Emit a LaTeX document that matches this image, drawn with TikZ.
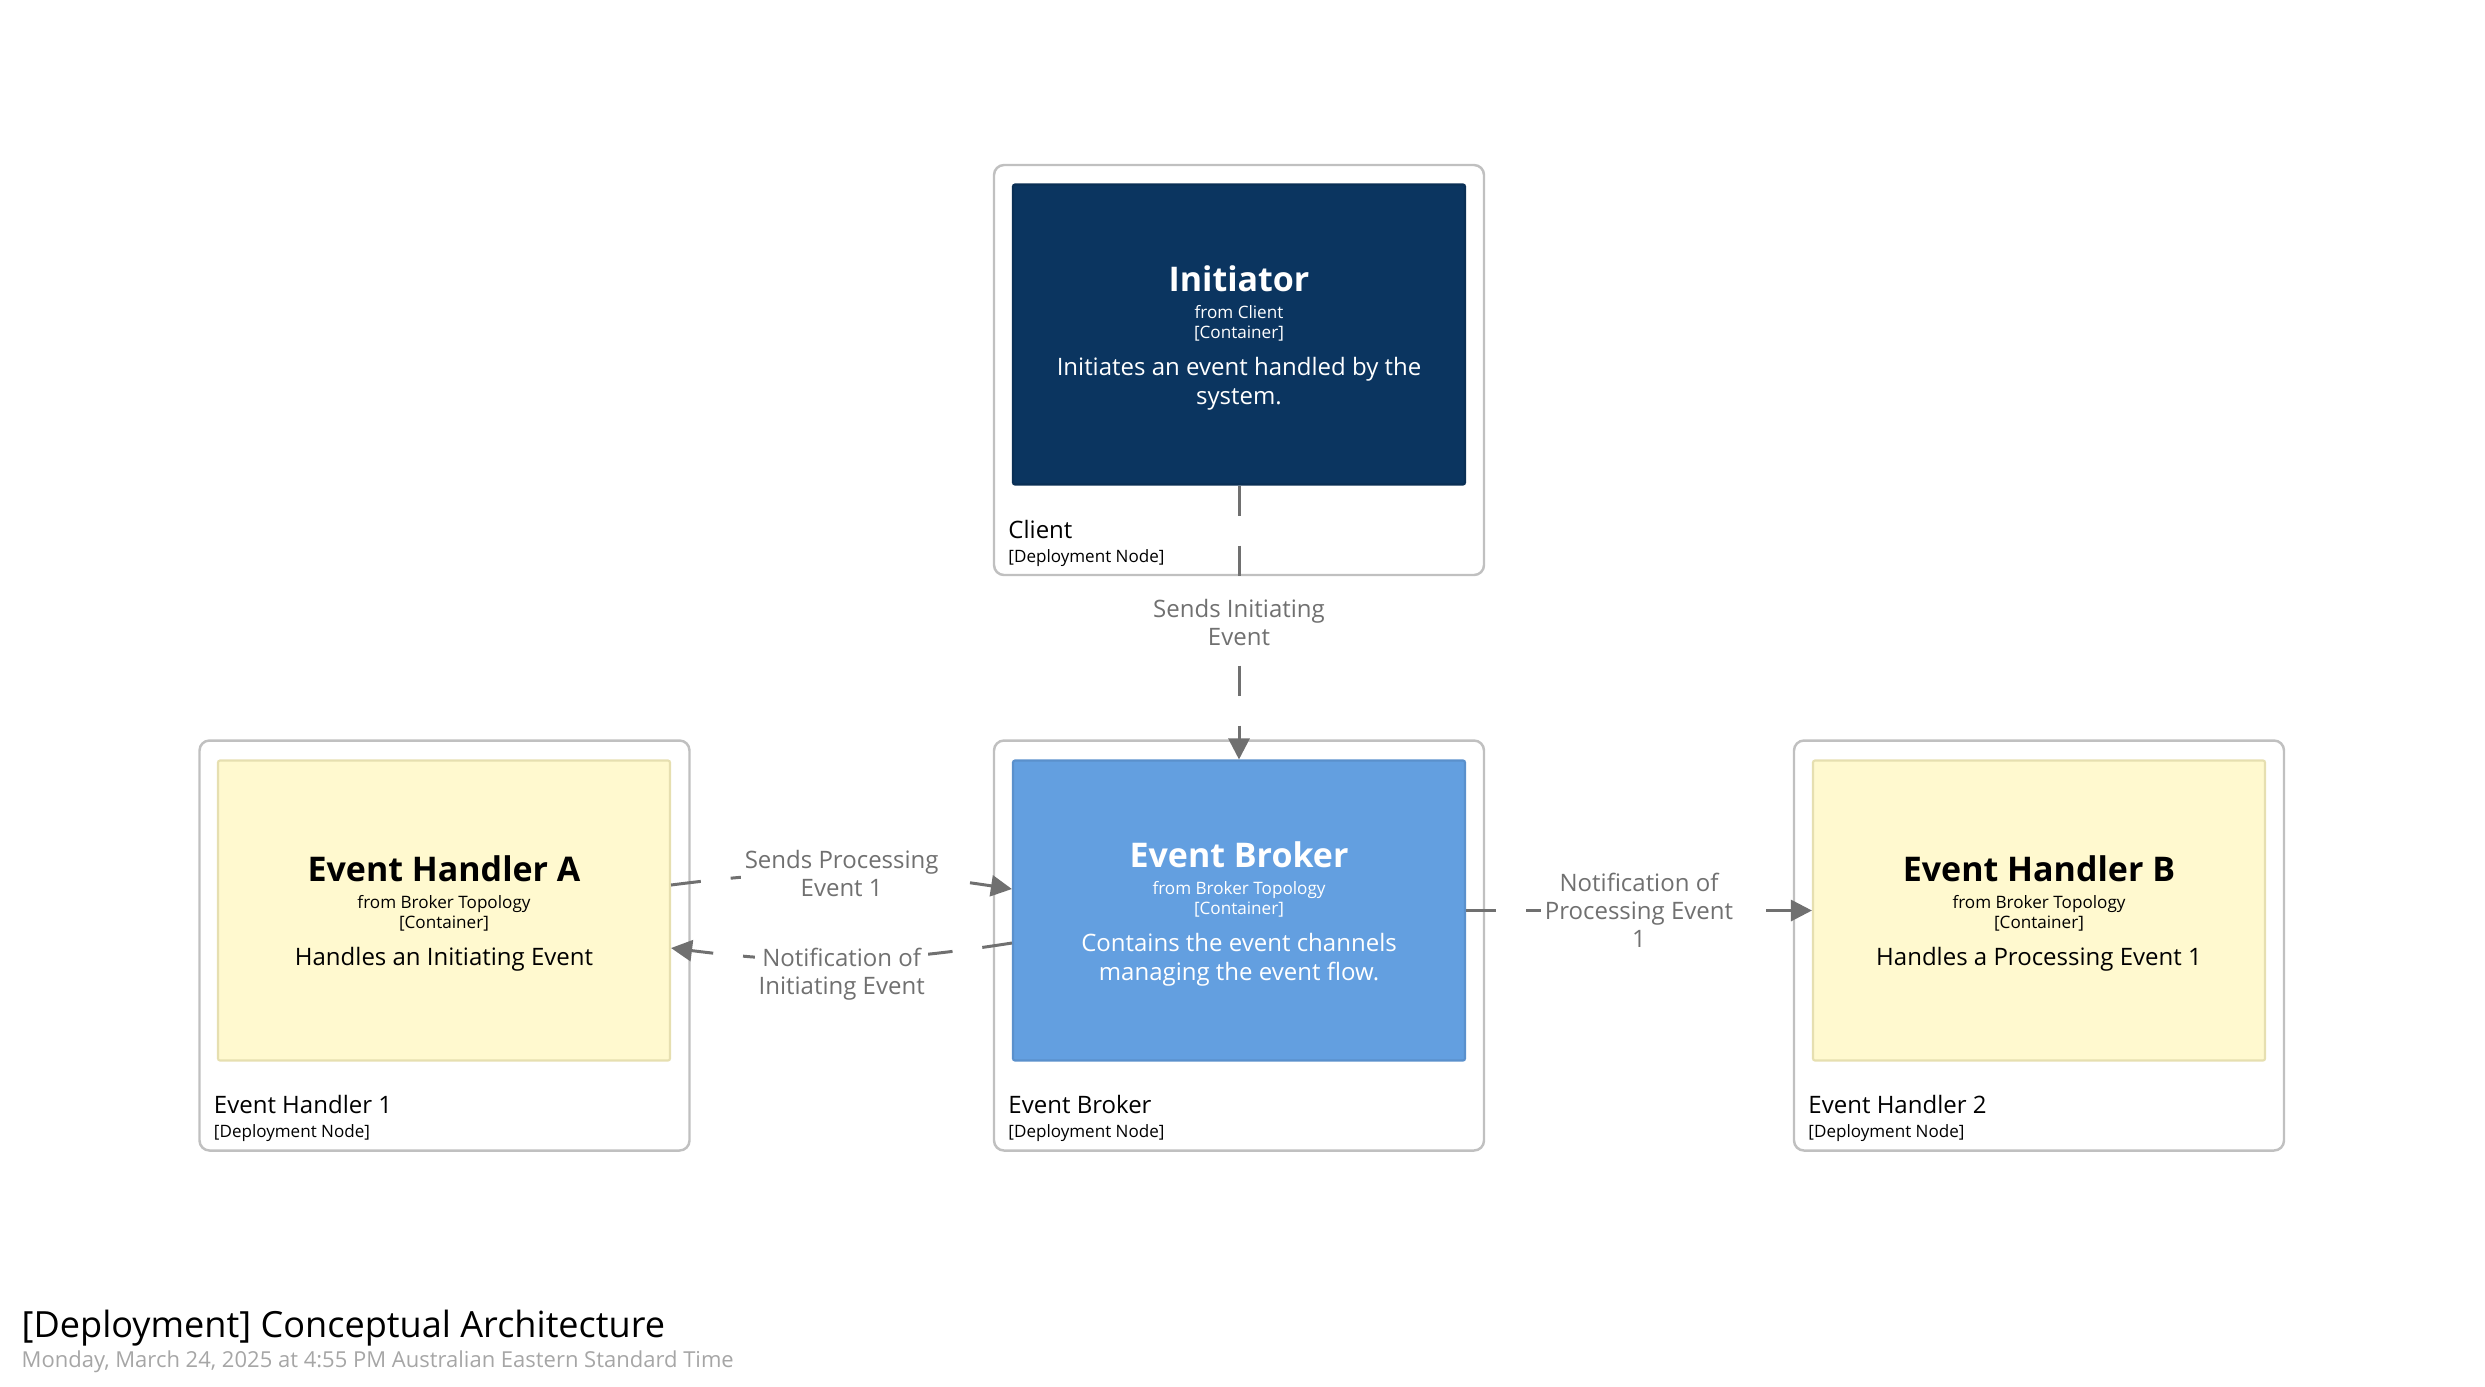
\documentclass[tikz,border=0pt]{standalone}
\usepackage{fontspec}
\setmainfont{Open Sans}
\usetikzlibrary{calc, positioning}
\usetikzlibrary{arrows.meta}

\definecolor{initnavy}{HTML}{0B3560}
\definecolor{initline}{HTML}{0A2F55}
\definecolor{brokerblue}{HTML}{639FE0}
\definecolor{brokerline}{HTML}{5A90CC}
\definecolor{handleryellow}{HTML}{FFF9CF}
\definecolor{handlerline}{HTML}{E6DFB0}
\definecolor{depgray}{HTML}{C0C0C0}
\definecolor{relgray}{HTML}{707070}
\definecolor{dategray}{HTML}{A6A6A6}

\begin{document}
\begin{tikzpicture}[x=0.1mm, y=0.1mm,
  depnode/.style={draw=depgray, line width=0.7pt, rounded corners=1mm, minimum width=49mm, minimum height=41mm, inner sep=0pt},
  container/.style={line width=0.6pt, rounded corners=0.2mm, minimum width=45.2mm, minimum height=30mm, inner sep=0pt},
  cname/.style={anchor=base, inner sep=0pt, font=\bfseries\fontsize{9.67pt}{11pt}\selectfont},
  cmeta/.style={anchor=base, inner sep=0pt, font=\fontsize{4.87pt}{6pt}\selectfont},
  cdesc/.style={anchor=base, inner sep=0pt, font=\fontsize{6.83pt}{8.54pt}\selectfont},
  depname/.style={anchor=base west, inner sep=0pt, font=\fontsize{6.83pt}{8pt}\selectfont},
  deptag/.style={anchor=base west, inner sep=0pt, font=\fontsize{4.85pt}{6pt}\selectfont},
  rel/.style={draw=relgray, line width=0.85pt, dash pattern=on 3mm off 3mm, -{Triangle[length=2.1mm, width=2.1mm]}},
  rlabel/.style={fill=white, text=relgray, align=center, inner sep=0.5pt, inner xsep=1pt, font=\fontsize{6.83pt}{7.97pt}\selectfont}
]
\useasboundingbox (0,0) rectangle (2485,-1386);

\node[depnode] (client) at (1239,-370) {};
\node[depnode] (brokernode) at (1239,-945.5) {};
\node[depnode] (handler1) at (444.5,-945.5) {};
\node[depnode] (handler2) at (2039,-945.5) {};

\node[container, fill=initnavy, draw=initline] (initiator) at (1239,-334.5) {};
\node[container, fill=brokerblue, draw=brokerline] (broker) at (1239,-910.5) {};
\node[container, fill=handleryellow, draw=handlerline] (eha) at (444,-910.5) {};
\node[container, fill=handleryellow, draw=handlerline] (ehb) at (2039,-910.5) {};

\node[cname, white] (initname) at ($(initiator.center)+(0,43.5)$) {Initiator};
\node[cmeta, white] (initfrom) at ($(initiator.center)+(0,16)$) {from Client};
\node[cmeta, white] (inittype) at ($(initiator.center)+(0,-4)$) {[Container]};
\node[cdesc, white] (initdesc1) at ($(initiator.center)+(0,-40.5)$) {Initiates an event handled by the};
\node[cdesc, white] (initdesc2) at ($(initiator.center)+(0,-70)$) {system.};

\node[cname, white] (brokername) at ($(broker.center)+(0,43.5)$) {Event Broker};
\node[cmeta, white] (brokerfrom) at ($(broker.center)+(0,16)$) {from Broker Topology};
\node[cmeta, white] (brokertype) at ($(broker.center)+(0,-4)$) {[Container]};
\node[cdesc, white] (brokerdesc1) at ($(broker.center)+(0,-40.5)$) {Contains the event channels};
\node[cdesc, white] (brokerdesc2) at ($(broker.center)+(0,-70)$) {managing the event flow.};

\node[cname] (ehaname) at ($(eha.center)+(0,29.5)$) {Event Handler A};
\node[cmeta] (ehafrom) at ($(eha.center)+(0,2)$) {from Broker Topology};
\node[cmeta] (ehatype) at ($(eha.center)+(0,-18)$) {[Container]};
\node[cdesc] (ehadesc) at ($(eha.center)+(0,-54.5)$) {Handles an Initiating Event};

\node[cname] (ehbname) at ($(ehb.center)+(0,29.5)$) {Event Handler B};
\node[cmeta] (ehbfrom) at ($(ehb.center)+(0,2)$) {from Broker Topology};
\node[cmeta] (ehbtype) at ($(ehb.center)+(0,-18)$) {[Container]};
\node[cdesc] (ehbdesc) at ($(ehb.center)+(0,-54.5)$) {Handles a Processing Event 1};

\node[depname] (clientname) at ($(client.south west)+(15,38)$) {Client};
\node[deptag] (clienttag) at ($(client.south west)+(15,14)$) {[Deployment Node]};
\node[depname] (brokernodename) at ($(brokernode.south west)+(15,38)$) {Event Broker};
\node[deptag] (brokernodetag) at ($(brokernode.south west)+(15,14)$) {[Deployment Node]};
\node[depname] (handler1name) at ($(handler1.south west)+(15,38)$) {Event Handler 1};
\node[deptag] (handler1tag) at ($(handler1.south west)+(15,14)$) {[Deployment Node]};
\node[depname] (handler2name) at ($(handler2.south west)+(15,38)$) {Event Handler 2};
\node[deptag] (handler2tag) at ($(handler2.south west)+(15,14)$) {[Deployment Node]};

\draw[rel] (initiator.south) -- (broker.north) node[rlabel, pos=0.5] {Sends Initiating\\Event};
\draw[rel] ($(eha.east)+(0,25.5)$) to[bend left=8] node[rlabel] {Sends Processing\\Event 1} ($(broker.west)+(0,21.5)$);
\draw[rel] ($(broker.west)+(0,-32.5)$) to[bend left=8] node[rlabel, yshift=-1.5mm] {Notification of\\Initiating Event} ($(eha.east)+(0,-37.5)$);
\draw[rel] (broker.east) -- (ehb.west) node[rlabel, pos=0.5] {Notification of\\Processing Event\\1};

\node[anchor=base west, inner sep=0pt, font=\fontsize{10.27pt}{12.5pt}\selectfont] (title) at (21,-1337) {[Deployment] Conceptual Architecture};
\node[anchor=base west, inner sep=0pt, text=dategray, font=\fontsize{6.26pt}{7.5pt}\selectfont] (date) at (21,-1367) {Monday, March 24, 2025 at 4:55 PM Australian Eastern Standard Time};
\end{tikzpicture}
\end{document}
